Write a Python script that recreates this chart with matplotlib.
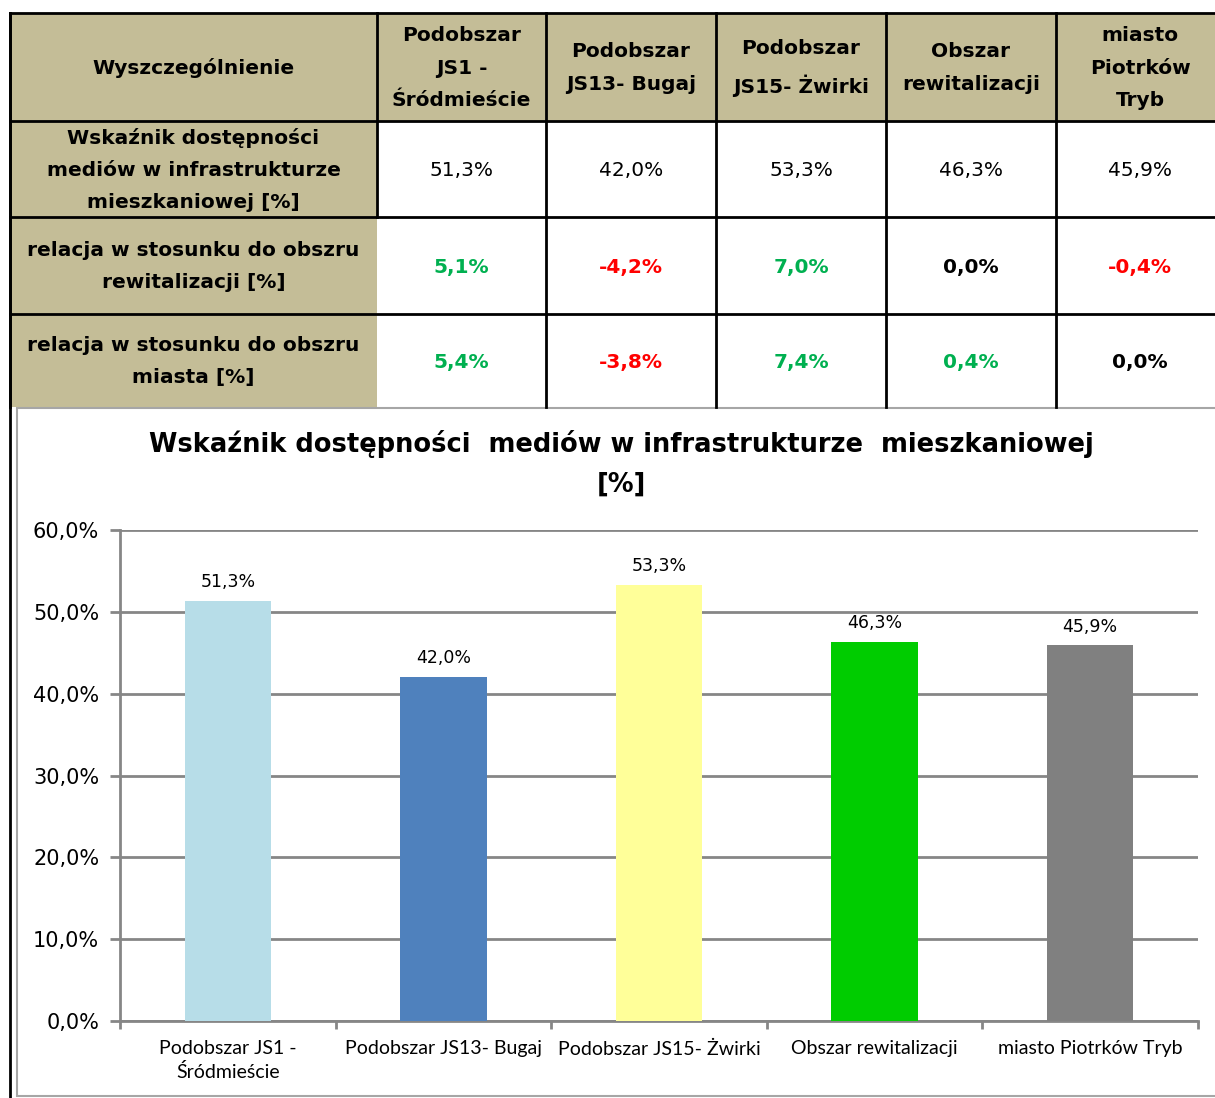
"""Tabela + wykres słupkowy: wskaźnik dostępności mediów w infrastrukturze mieszkaniowej."""

import matplotlib
matplotlib.use("Agg")
import matplotlib.pyplot as plt
from matplotlib.patches import Rectangle
from matplotlib.ticker import FuncFormatter, FixedLocator

plt.rcParams["font.family"] = ["DejaVu Sans"]

# ---------------------------------------------------------------------------
# Data
# ---------------------------------------------------------------------------

HEADER_FIRST = "Wyszczególnienie"
HEADER_COLS = [
    "Podobszar\nJS1 -\nŚródmieście",
    "Podobszar\nJS13- Bugaj",
    "Podobszar\nJS15- Żwirki",
    "Obszar\nrewitalizacji",
    "miasto\nPiotrków\nTryb",
]
ROW_LABELS = [
    "Wskaźnik dostępności\nmediów w infrastrukturze\nmieszkaniowej [%]",
    "relacja w stosunku do obszru\nrewitalizacji [%]",
    "relacja w stosunku do obszru\nmiasta [%]",
]
wskaznik = [51.3, 42.0, 53.3, 46.3, 45.9]
rel_rewitalizacja = [5.1, -4.2, 7.0, 0.0, -0.4]
rel_miasto = [5.4, -3.8, 7.4, 0.4, 0.0]

CATEGORIES = [
    "Podobszar JS1 -\nŚródmieście",
    "Podobszar JS13- Bugaj",
    "Podobszar JS15- Żwirki",
    "Obszar rewitalizacji",
    "miasto Piotrków Tryb",
]
BAR_COLORS = ["#B7DDE8", "#4F81BD", "#FFFF99", "#00CC00", "#808080"]
CHART_TITLE = "Wskaźnik dostępności  mediów w infrastrukturze  mieszkaniowej\n[%]"

TAN = "#C4BD97"
GREEN = "#00B050"
RED = "#FF0000"
GRID = "#868686"

W, H = 1215, 1098


def pct(v: float) -> str:
    return f"{v:.1f}%".replace(".", ",")


def sign_color(v: float) -> str:
    if v > 0:
        return GREEN
    if v < 0:
        return RED
    return "black"


fig = plt.figure(figsize=(W / 100, H / 100), dpi=100)

# background axes in pixel coordinates for the table and frames
bg = fig.add_axes([0, 0, 1, 1])
bg.set_xlim(0, W)
bg.set_ylim(H, 0)
bg.axis("off")

col_x = [10, 377, 546, 716, 886, 1056, 1226]
row_y = [13, 121, 217, 314, 407]

# tan first column + tan header row
bg.add_patch(Rectangle((col_x[0], row_y[0]), col_x[1] - col_x[0], row_y[-1] - row_y[0],
                       facecolor=TAN, edgecolor="none"))
bg.add_patch(Rectangle((col_x[1], row_y[0]), col_x[-1] - col_x[1], row_y[1] - row_y[0],
                       facecolor=TAN, edgecolor="none"))

# grid lines
lw = 2.0
for y in row_y[:-1]:
    bg.plot([col_x[0], col_x[-1]], [y, y], color="black", lw=lw)
for i, x in enumerate(col_x[:-1]):
    if i == 1:
        bg.plot([x, x], [row_y[0], row_y[2]], color="black", lw=lw)
        continue
    bg.plot([x, x], [row_y[0], row_y[-1]], color="black", lw=lw)
# continuation of the left border down the page
bg.plot([col_x[0], col_x[0]], [row_y[0], H], color="black", lw=lw)

# table text
fs_tab = 14.5
ls_tab = 1.88
cx = [(col_x[i] + col_x[i + 1]) / 2 for i in range(len(col_x) - 1)]
cx[-1] = 1140
cy = [(row_y[i] + row_y[i + 1]) / 2 + 1 for i in range(len(row_y) - 1)]

bg.text(cx[0], cy[0], HEADER_FIRST, ha="center", va="center",
        fontsize=fs_tab, fontweight="bold")
for j, lab in enumerate(HEADER_COLS):
    bg.text(cx[j + 1], cy[0], lab, ha="center", va="center",
            fontsize=fs_tab, fontweight="bold", linespacing=ls_tab)

for i, lab in enumerate(ROW_LABELS):
    bg.text(cx[0], cy[i + 1], lab, ha="center", va="center",
            fontsize=fs_tab, fontweight="bold", linespacing=ls_tab)

for j, v in enumerate(wskaznik):
    bg.text(cx[j + 1], cy[1] + 1, pct(v), ha="center", va="center", fontsize=fs_tab)
for r, vals in enumerate([rel_rewitalizacja, rel_miasto]):
    for j, v in enumerate(vals):
        bg.text(cx[j + 1], cy[2 + r] + 1, pct(v), ha="center", va="center",
                fontsize=fs_tab, fontweight="bold", color=sign_color(v))

# chart frame
bg.add_patch(Rectangle((17, 408), W - 17 + 5, H - 408 - 2, facecolor="white",
                       edgecolor="#A6A6A6", lw=1.5))

bg.text(621, 464, CHART_TITLE, ha="center", va="center", fontsize=18.5,
        fontweight="bold", linespacing=1.67)

# ---------------------------------------------------------------------------
# Bar chart
# ---------------------------------------------------------------------------

x0, x1, y0, y1 = 120, 1198, 1021, 530
ax = fig.add_axes([x0 / W, (H - y0) / H, (x1 - x0) / W, (y0 - y1) / H])
n = len(wskaznik)
xs = list(range(n))
vals = [v / 100 for v in wskaznik]
ax.bar(xs, vals, width=0.4, color=BAR_COLORS, zorder=3)
for x, v, raw in zip(xs, vals, wskaznik):
    ax.text(x, v + 0.012, pct(raw), ha="center", va="bottom", fontsize=12.5)

ax.set_xlim(-0.5, n - 0.5)
ax.set_ylim(0, 0.6)
ax.set_yticks([0, 0.1, 0.2, 0.3, 0.4, 0.5, 0.6])
ax.yaxis.set_major_formatter(FuncFormatter(lambda v, p: pct(v * 100)))
ax.tick_params(axis="y", labelsize=15, length=7, width=2, color=GRID, pad=8)

ax.set_xticks(xs)
ax.set_xticklabels(CATEGORIES, fontsize=14, family="Lato", linespacing=1.4)
ax.tick_params(axis="x", which="major", length=0, pad=14)
ax.xaxis.set_minor_locator(FixedLocator([i - 0.5 for i in range(n + 1)]))
ax.tick_params(axis="x", which="minor", length=6, width=2, color=GRID)

ax.yaxis.grid(True, color=GRID, lw=2, zorder=0)
ax.set_axisbelow(True)
for side in ["top", "right"]:
    ax.spines[side].set_visible(False)
for side in ["left", "bottom"]:
    ax.spines[side].set_color(GRID)
    ax.spines[side].set_linewidth(2)

fig.savefig("out.png", dpi=100)
